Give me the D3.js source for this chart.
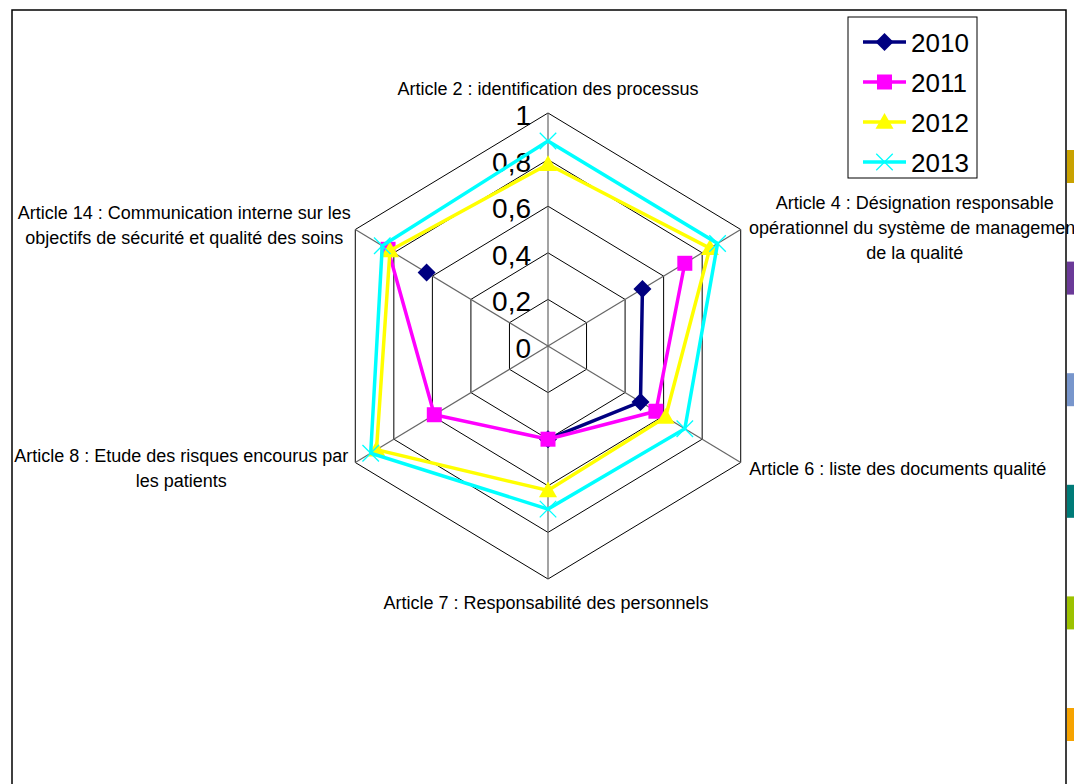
<!DOCTYPE html>
<html>
<head>
<meta charset="utf-8">
<script src="https://cdn.jsdelivr.net/npm/d3@7"></script>
<style>
  body { margin: 0; background: #fff; }
  text { font-family: "Liberation Sans", Arial, sans-serif; fill: #000; }
</style>
</head>
<body>
<div id="chart"></div>
<script>
// axes of the radar, clockwise from the top
const articles = [
  ["Article 2 : identification des processus"],
  ["Article 4 : Désignation responsable", "opérationnel du système de management", "de la qualité"],
  ["Article 6 : liste des documents qualité"],
  ["Article 7 : Responsabilité des personnels"],
  ["Article 8 : Etude des risques encourus par", "les patients"],
  ["Article 14 : Communication interne sur les", "objectifs de sécurité et qualité des soins"]
]
const years = ["2010", "2011", "2012", "2013"]
// null = no value (Excel leaves a gap)
const v2010 = [null, 0.49, 0.48, 0.40, null, 0.63]
const v2011 = [null, 0.71, 0.56, 0.40, 0.59, 0.83]
const v2012 = [0.78, 0.84, 0.61, 0.62, 0.89, 0.82]
const v2013 = [0.88, 0.88, 0.71, 0.70, 0.92, 0.86]
const ticks = [0, 0.2, 0.4, 0.6, 0.8, 1]
const tickLabels = ["0", "0,2", "0,4", "0,6", "0,8", "1"]

const series = [
  {name: years[0], values: v2010, color: "#000080", marker: "diamond"},
  {name: years[1], values: v2011, color: "#ff00ff", marker: "square"},
  {name: years[2], values: v2012, color: "#ffff00", marker: "triangle"},
  {name: years[3], values: v2013, color: "#00ffff", marker: "x"}
]

const W = 1074, H = 784
const cx = 548, cy = 346, R = 233, kx = 0.955

const svg = d3.select("#chart").append("svg")
    .attr("width", W)
    .attr("height", H)

svg.append("rect").attr("width", W).attr("height", H).attr("fill", "#fff")

// outer chart frame
svg.append("rect")
    .attr("x", 12).attr("y", 10)
    .attr("width", 1054).attr("height", 800)
    .attr("fill", "none").attr("stroke", "#000").attr("stroke-width", 1.5)

// coloured bits cut by the right edge
const sideColors = ["#c9a200", "#6b3a98", "#7896cc", "#007b78", "#9cc200", "#f6a300"]
svg.selectAll(".side").data(sideColors).enter().append("rect")
    .attr("x", 1067)
    .attr("y", (d, i) => 150 + i * 111.6)
    .attr("width", 10).attr("height", 33)
    .attr("fill", d => d)

const r = d3.scaleLinear().domain([0, 1]).range([0, R])
const angle = d3.scaleLinear().domain([0, articles.length]).range([0, 2 * Math.PI])
function pt(i, v) {
  const a = angle(i)
  return [cx + Math.sin(a) * r(v) * kx, cy - Math.cos(a) * r(v)]
}

// grid rings
const grid = svg.append("g")
ticks.filter(t => t > 0).forEach(t => {
  grid.append("polygon")
      .attr("points", articles.map((d, i) => pt(i, t).join(",")).join(" "))
      .attr("fill", "none").attr("stroke", "#000").attr("stroke-width", 1)
})
// spokes
articles.forEach((d, i) => {
  const p = pt(i, 1)
  grid.append("line")
      .attr("x1", cx).attr("y1", cy).attr("x2", p[0]).attr("y2", p[1])
      .attr("stroke", "#666").attr("stroke-width", 1.2)
})

// tick labels along the top spoke
svg.selectAll(".tick").data(ticks).enter().append("text")
    .attr("x", cx - 17)
    .attr("y", d => cy - r(d) + 12)
    .attr("text-anchor", "end")
    .style("font-size", "28px")
    .text((d, i) => tickLabels[i])

// category labels, offset from the outer vertex
const labelOffset = [[0, -18], [174, -21], [157, 12], [-2, 30], [-174, -1], [-171, -11]]
articles.forEach((lines, i) => {
  const p = pt(i, 1)
  const t = svg.append("text")
      .attr("text-anchor", "middle")
      .style("font-size", "18px")
  lines.forEach((l, j) => {
    t.append("tspan")
        .attr("x", p[0] + labelOffset[i][0])
        .attr("y", p[1] + labelOffset[i][1] + j * 25)
        .text(l)
  })
})

function drawMarker(g, type, x, y, color, s) {
  if (type === "diamond") {
    g.append("path")
      .attr("d", `M${x},${y - s * 0.6}L${x + s * 0.6},${y}L${x},${y + s * 0.6}L${x - s * 0.6},${y}Z`)
      .attr("fill", color)
  } else if (type === "square") {
    g.append("rect").attr("x", x - s / 2).attr("y", y - s / 2)
      .attr("width", s).attr("height", s).attr("fill", color)
  } else if (type === "triangle") {
    g.append("path")
      .attr("d", `M${x},${y - s * 0.6}L${x + s * 0.6},${y + s * 0.45}L${x - s * 0.6},${y + s * 0.45}Z`)
      .attr("fill", color)
  } else {
    const h = s * 0.55
    g.append("path")
      .attr("d", `M${x - h},${y - h}L${x + h},${y + h}M${x - h},${y + h}L${x + h},${y - h}`)
      .attr("stroke", color).attr("stroke-width", 1.3).attr("fill", "none")
  }
}

const line = d3.line()
    .defined(d => d.v != null)
    .x(d => pt(d.i, d.v)[0])
    .y(d => pt(d.i, d.v)[1])

series.forEach(s => {
  const g = svg.append("g")
  const pts = s.values.map((v, i) => ({i: i, v: v}))
  g.append("path")
      .datum(pts.concat([{i: 0, v: s.values[0]}]))
      .attr("d", line)
      .attr("fill", "none")
      .attr("stroke", s.color)
      .attr("stroke-width", 3.5)
      .attr("stroke-linejoin", "miter")
  pts.filter(d => d.v != null).forEach(d => {
    const p = pt(d.i, d.v)
    drawMarker(g, s.marker, p[0], p[1], s.color, 15)
  })
})

// legend
const lg = svg.append("g")
lg.append("rect")
    .attr("x", 848).attr("y", 17).attr("width", 129).attr("height", 161)
    .attr("fill", "#fff").attr("stroke", "#000").attr("stroke-width", 1)
series.forEach((s, i) => {
  const y = 42 + i * 40
  lg.append("line")
      .attr("x1", 863).attr("x2", 906).attr("y1", y).attr("y2", y)
      .attr("stroke", s.color).attr("stroke-width", 3.5)
  drawMarker(lg, s.marker, 884.5, y, s.color, 15)
  lg.append("text")
      .attr("x", 911).attr("y", y + 9.5)
      .style("font-size", "26px")
      .text(s.name)
})
</script>
</body>
</html>
